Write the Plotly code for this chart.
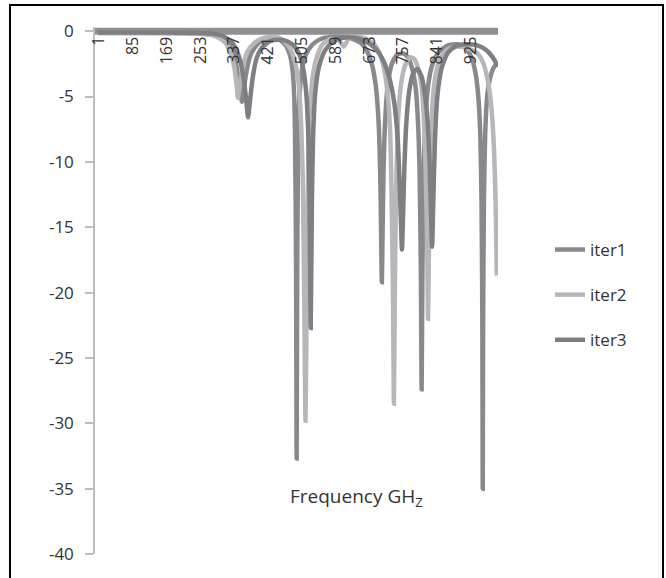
import plotly.graph_objects as go

# ---- data (category index, S11 dB) ----
iter1_k = [1, 260, 300, 325, 340, 350, 356, 359, 363, 370, 382, 400, 420, 440, 455, 468, 478, 485, 489, 491, 493, 494, 495, 496, 497, 499, 502, 508, 518, 535, 555, 580, 610, 635, 655, 670, 682, 692, 699, 703, 705, 707, 709, 711, 715, 722, 732, 745, 760, 772, 782, 791, 797, 801, 804, 806, 808, 811, 815, 822, 832, 848, 870, 895, 915, 930, 940, 947, 952, 955, 957, 958, 959, 961, 964, 969, 977, 987, 995]
iter1_v = [-0.1, -0.15, -0.4, -1.0, -2.0, -3.5, -4.8, -5.4, -4.6, -3.1, -1.7, -0.9, -0.6, -0.55, -0.7, -1.1, -1.8, -3.0, -5.0, -8.0, -15.0, -22.0, -32.7, -22.0, -15.0, -8.0, -5.0, -3.0, -1.8, -1.0, -0.6, -0.45, -0.45, -0.6, -0.9, -1.5, -2.5, -4.2, -7.0, -11.0, -15.0, -19.2, -15.0, -11.0, -7.0, -4.0, -2.5, -1.8, -1.7, -2.0, -2.8, -4.3, -7.0, -11.0, -18.0, -27.4, -18.0, -11.0, -7.0, -4.2, -2.6, -1.6, -1.1, -1.0, -1.3, -2.0, -3.2, -5.0, -8.0, -13.0, -22.0, -35.0, -22.0, -13.0, -8.0, -5.0, -3.5, -2.7, -2.5]

iter2_k = [1, 150, 250, 290, 315, 330, 340, 346, 349, 353, 360, 372, 390, 410, 430, 450, 465, 480, 492, 500, 506, 510, 513, 515, 517, 519, 521, 524, 528, 535, 545, 560, 580, 600, 608, 612, 616, 625, 645, 665, 685, 700, 712, 722, 728, 732, 735, 737, 739, 742, 747, 755, 765, 777, 787, 797, 806, 812, 817, 820, 822, 824, 827, 832, 840, 852, 870, 895, 920, 945, 960, 972, 980, 986, 990, 993]
iter2_v = [-0.15, -0.15, -0.2, -0.35, -0.8, -1.6, -2.8, -4.2, -5.1, -4.3, -2.9, -1.6, -0.9, -0.55, -0.45, -0.5, -0.8, -1.4, -2.5, -4.0, -7.0, -11.0, -18.0, -24.0, -29.8, -24.0, -17.0, -10.0, -6.0, -3.5, -2.0, -1.0, -0.6, -0.7, -1.0, -1.2, -1.0, -0.6, -0.45, -0.55, -0.9, -1.6, -2.8, -5.0, -8.0, -14.0, -21.0, -28.5, -21.0, -13.0, -7.0, -4.0, -2.6, -2.0, -2.1, -2.8, -4.3, -7.0, -12.0, -17.0, -22.0, -17.0, -11.0, -6.0, -3.5, -2.1, -1.4, -1.2, -1.3, -1.7, -2.5, -4.0, -6.0, -9.0, -13.0, -18.7]

iter3_k = [1, 270, 310, 335, 352, 363, 370, 374, 378, 385, 395, 410, 430, 450, 470, 488, 502, 512, 519, 524, 527, 530, 533, 536, 541, 550, 565, 585, 610, 640, 665, 690, 710, 725, 738, 746, 751, 755, 757, 759, 763, 768, 775, 785, 795, 805, 813, 820, 825, 829, 832, 835, 839, 845, 855, 870, 890, 915, 940, 960, 975, 987, 995]
iter3_v = [-0.1, -0.15, -0.35, -0.9, -2.0, -3.6, -5.4, -6.6, -5.6, -3.7, -2.1, -1.2, -0.75, -0.65, -0.75, -1.1, -1.8, -3.0, -4.8, -8.0, -13.0, -22.7, -13.0, -8.0, -4.8, -2.8, -1.5, -0.8, -0.5, -0.5, -0.75, -1.3, -2.2, -3.5, -5.5, -8.0, -11.5, -15.0, -16.7, -15.0, -10.5, -7.0, -4.6, -3.2, -2.9, -3.4, -4.6, -6.6, -9.5, -13.5, -16.5, -13.0, -8.5, -5.0, -2.9, -1.7, -1.15, -1.0, -1.05, -1.3, -1.7, -2.2, -2.7]

series_names = ["iter1", "iter2", "iter3"]
x_tick_vals = [1, 85, 169, 253, 337, 421, 505, 589, 673, 757, 841, 925]
x_tick_text = ["1", "85", "169", "253", "337", "421", "505", "589", "673", "757", "841", "925"]
y_tick_vals = [0, -5, -10, -15, -20, -25, -30, -35, -40]
y_tick_text = ["0", "-5", "-10", "-15", "-20", "-25", "-30", "-35", "-40"]
x_title = "Frequency GH<sub>Z</sub>"

colors = ["#89898d", "#b7b7bb", "#7e7e83"]
band_color = "#909094"
FONT = "Open Sans"

fig = go.Figure()
for i, (kk, vv) in enumerate([(iter1_k, iter1_v), (iter2_k, iter2_v), (iter3_k, iter3_v)]):
    fig.add_trace(go.Scatter(
        x=kk, y=vv, mode="lines", name=series_names[i],
        legendgroup=series_names[i],
        line=dict(color=colors[i], width=4.5, shape="spline", smoothing=0.6),
    ))

L, R, T, B = 95, 168, 27, 24
W, H = 666, 578
pw = W - L - R
ph = H - T - B

annotations = []
# category labels, rotated, hanging just under the zero line
for tv, tt in zip(x_tick_vals, x_tick_text):
    annotations.append(dict(
        text=tt, x=tv, y=0, xref="x", yref="y",
        xanchor="center", yanchor="top", yshift=-4, textangle=-90,
        showarrow=False, font=dict(size=16, color="#333333", family=FONT),
    ))
annotations.append(dict(
    text=x_title, xref="paper", yref="paper",
    x=(356 - L) / pw, y=(H - B - 497) / ph, xanchor="center", yanchor="middle",
    showarrow=False, font=dict(size=19, color="#333333", family=FONT),
))

fig.update_layout(
    width=W, height=H,
    margin=dict(l=L, r=R, t=T, b=B),
    paper_bgcolor="white", plot_bgcolor="white",
    font=dict(family=FONT, color="#333333"),
    showlegend=True,
    legend=dict(
        x=(550 - L) / pw, y=(H - B - 232) / ph, xanchor="left", yanchor="top",
        font=dict(size=17, color="#333333"),
        tracegroupgap=20, bgcolor="rgba(0,0,0,0)",
    ),
    xaxis=dict(
        type="linear", range=[-6.7, 996],
        showticklabels=False, ticks="",
        showline=False, showgrid=False, zeroline=False,
    ),
    yaxis=dict(
        range=[-40, 0.32], tickvals=y_tick_vals, ticktext=y_tick_text,
        ticks="outside", ticklen=8, tickcolor="#bdbdbd", tickwidth=1.5,
        showline=True, linecolor="#bdbdbd", linewidth=1.5,
        showgrid=False, zeroline=False,
        tickfont=dict(size=17, color="#333333"),
        ticklabelstandoff=8,
    ),
    annotations=annotations,
    shapes=[
        dict(type="line", xref="paper", yref="y", x0=0, x1=1, y0=0, y1=0,
             line=dict(color=band_color, width=7), layer="below"),
        dict(type="rect", xref="paper", yref="paper",
             x0=(10 - L) / pw, x1=(663 - L) / pw,
             y0=(H - B - 590) / ph, y1=(H - B - 5) / ph,
             line=dict(color="black", width=2), fillcolor="rgba(0,0,0,0)", layer="below"),
    ],
)

fig.write_html("out.html")
